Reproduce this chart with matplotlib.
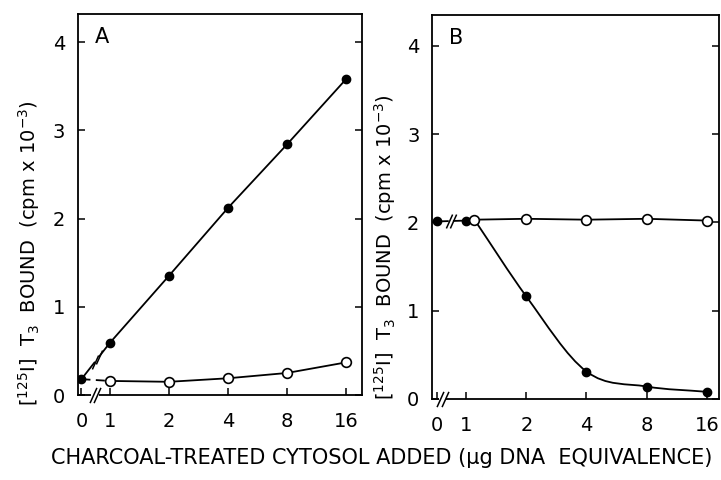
import numpy as np
import matplotlib

matplotlib.use("Agg")

import matplotlib.pyplot as plt
from matplotlib.path import Path
from matplotlib.patches import PathPatch

# DNA equivalence (ug) added; 0 sits left of the axis break
dose_ticks = [0, 1, 2, 4, 8, 16]
tick_labels = ["0", "1", "2", "4", "8", "16"]

# Panel A: bound T3 (cpm x 10^-3)
a_dose = [0, 1, 2, 4, 8, 16]
a_filled = [0.18, 0.59, 1.35, 2.12, 2.84, 3.58]
a_open = [0.18, 0.16, 0.15, 0.19, 0.25, 0.37]

# Panel B
b_filled_dose = [0, 1, 2, 4, 8, 16]
b_filled = [2.01, 2.02, 1.16, 0.31, 0.14, 0.08]
b_open_dose = [1.1, 2, 4, 8, 16]
b_open = [2.03, 2.04, 2.03, 2.04, 2.02]

ZERO_POS = -0.48


def to_pos(dose):
    dose = np.asarray(dose, dtype=float)
    out = np.full(dose.shape, ZERO_POS)
    nz = dose > 0
    out[nz] = np.log2(dose[nz])
    return out


def smooth_path(x, y):
    # cardinal-spline tangents (mean of neighbouring secants) as Bezier segments
    x = np.asarray(x, float)
    y = np.asarray(y, float)
    h = np.diff(x)
    d = np.diff(y) / h
    m = np.empty_like(y)
    m[0], m[-1] = d[0], d[-1]
    m[1:-1] = (d[:-1] + d[1:]) / 2
    verts = [(x[0], y[0])]
    codes = [Path.MOVETO]
    for i in range(len(x) - 1):
        verts += [(x[i] + h[i] / 3, y[i] + m[i] * h[i] / 3),
                  (x[i + 1] - h[i] / 3, y[i + 1] - m[i + 1] * h[i] / 3),
                  (x[i + 1], y[i + 1])]
        codes += [Path.CURVE4] * 3
    return Path(verts, codes)


slash = [(-0.45, -1.0), (0.45, 1.0)]


def axis_break(ax, x0, x1):
    ax.plot([x0 - 0.02, x1 + 0.02], [0, 0], color="white", lw=3,
            clip_on=False, zorder=6, solid_capstyle="butt")
    ax.plot([x0, x1], [0, 0], ls="none", marker=slash, ms=11, mew=1.1,
            mec="black", clip_on=False, zorder=7)


def line_break(ax, p0, p1, xs):
    (xa, ya), (xb, yb) = p0, p1
    ys = [ya + (x - xa) * (yb - ya) / (xb - xa) for x in xs]
    ax.plot(xs, ys, color="white", lw=3, zorder=4, solid_capstyle="butt")
    ax.plot(xs, ys, ls="none", marker=slash, ms=10, mew=1.1,
            mec="black", zorder=5)


plt.rcParams["font.family"] = ["DejaVu Sans"]
fig = plt.figure(figsize=(7.21, 4.80), dpi=100)
ax_a = fig.add_axes([0.108, 0.177, 0.394, 0.794])
ax_b = fig.add_axes([0.599, 0.169, 0.398, 0.800])

ylabel = r"[$^{125}$I]  T$_3$  BOUND  (cpm x 10$^{-3}$)"
filled_kw = dict(marker="o", ms=6, mfc="black", mec="black", mew=1.0)
open_kw = dict(marker="o", ms=7, mfc="white", mec="black", mew=1.2)

for ax, letter, ylim, xlim, lab_xy in [
        (ax_a, "A", 4.32, (-0.54, 4.27), (-0.127, 0.373)),
        (ax_b, "B", 4.35, (-0.57, 4.20), (-0.118, 0.396))]:
    ax.set_xlim(*xlim)
    ax.set_ylim(0, ylim)
    ax.set_xticks(to_pos(dose_ticks))
    ax.set_xticklabels(tick_labels)
    ax.set_yticks([0, 1, 2, 3, 4])
    ax.tick_params(direction="in", length=5, width=1.1, labelsize=14,
                   right=True, top=False)
    ax.tick_params(axis="x", pad=12)
    ax.tick_params(axis="y", pad=9)
    for s in ax.spines.values():
        s.set_linewidth(1.3)
    ax.set_ylabel(ylabel, fontsize=14)
    ax.yaxis.set_label_coords(*lab_xy)
    ax.text(0.06, 0.965, letter, transform=ax.transAxes, fontsize=15,
            va="top", ha="left")

# Panel A
pa = to_pos(a_dose)
ax_a.plot(pa, a_filled, color="black", lw=1.3, zorder=2)
ax_a.plot(pa, a_filled, ls="none", zorder=8, **filled_kw)
ax_a.plot(pa[:2], a_open[:2], color="black", lw=1.3, ls=(0, (5, 3)), zorder=2)
ax_a.plot(pa[1:], a_open[1:], color="black", lw=1.3, zorder=2)
ax_a.plot(pa[1:], a_open[1:], ls="none", zorder=8, **open_kw)
line_break(ax_a, (pa[0], a_filled[0]), (pa[1], a_filled[1]), [-0.25, -0.19])
axis_break(ax_a, -0.29, -0.21)

# Panel B
pbf = to_pos(b_filled_dose)
pbo = to_pos(b_open_dose)
ax_b.plot(list(pbf[:2]) + [pbo[0]], b_filled[:2] + [b_open[0]],
          color="black", lw=1.3, zorder=2)
curve = smooth_path([pbo[0]] + list(pbf[2:]), [b_open[0]] + b_filled[2:])
ax_b.add_patch(PathPatch(curve, fill=False, lw=1.3, ec="black", zorder=2))
ax_b.plot(pbo, b_open, color="black", lw=1.3, zorder=2)
ax_b.plot(pbf, b_filled, ls="none", zorder=8, **filled_kw)
ax_b.plot(pbo, b_open, ls="none", zorder=8, **open_kw)
line_break(ax_b, (pbf[0], b_filled[0]), (pbf[1], b_filled[1]), [-0.29, -0.22])
axis_break(ax_b, -0.43, -0.35)

fig.text(0.53, 0.046, "CHARCOAL-TREATED CYTOSOL ADDED (\u00b5g DNA  EQUIVALENCE)",
         ha="center", va="center", fontsize=15)

fig.savefig("out.png", dpi=100)
